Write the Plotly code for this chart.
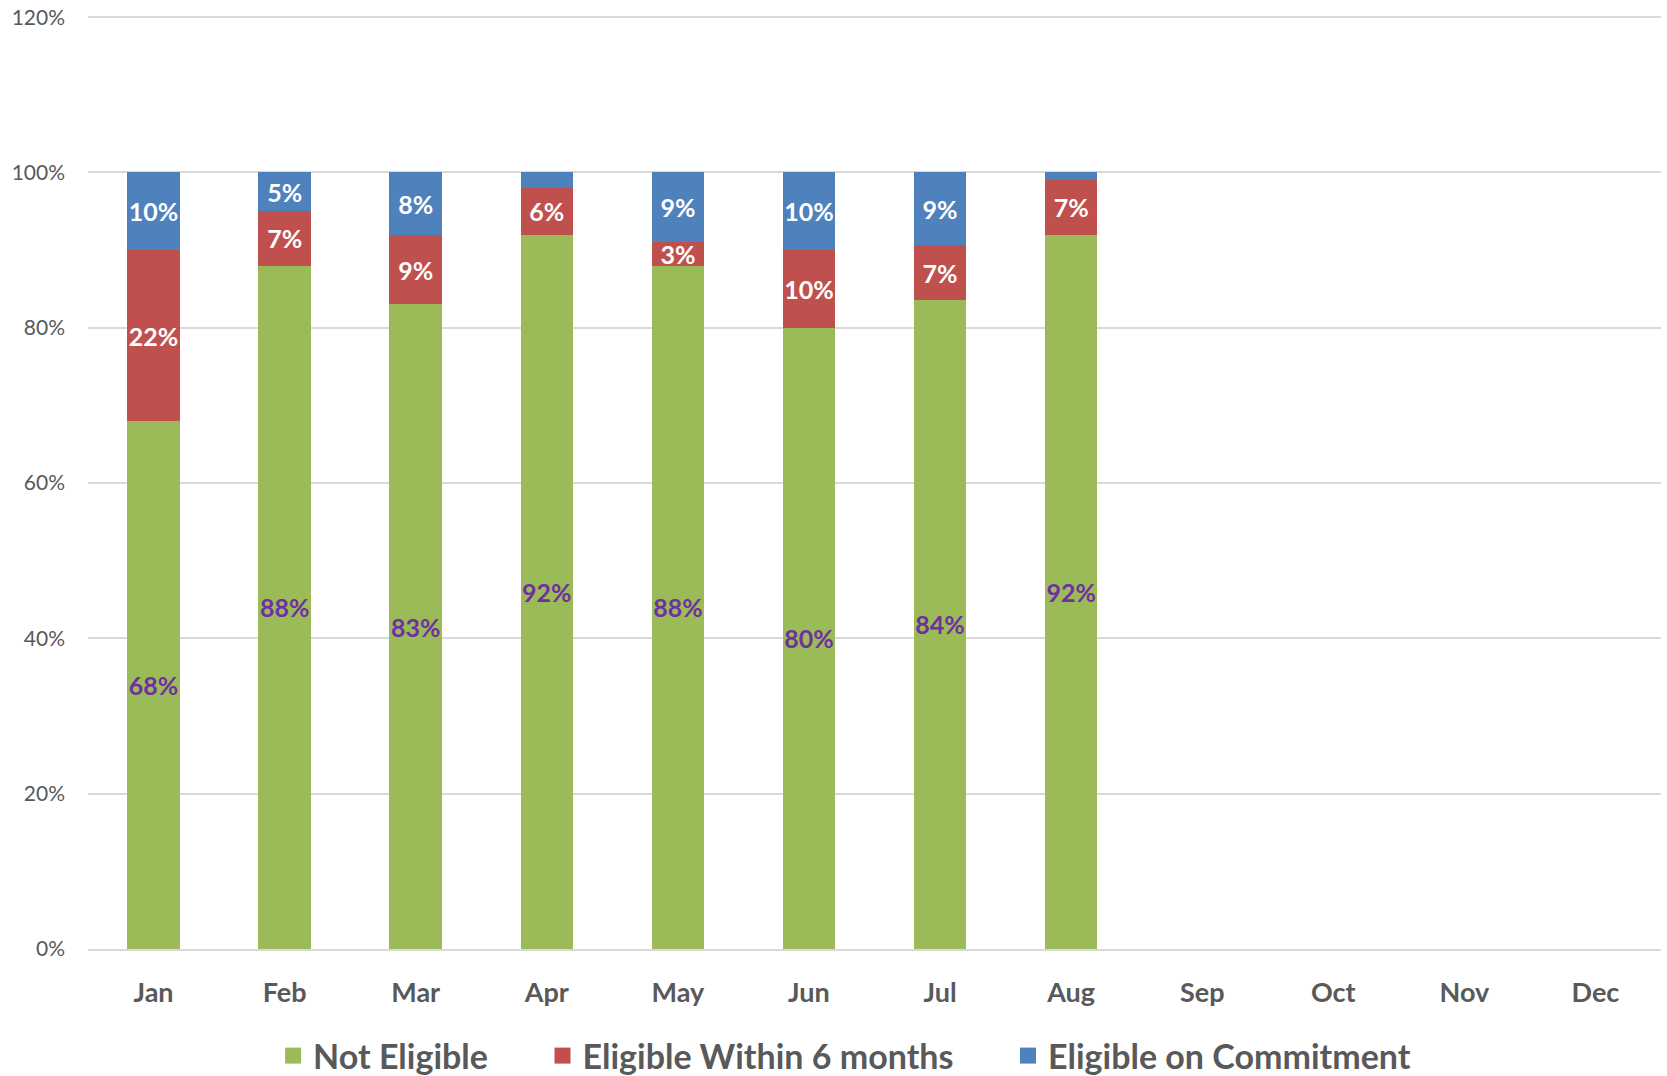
import plotly.graph_objects as go

months = ["Jan", "Feb", "Mar", "Apr", "May", "Jun", "Jul", "Aug", "Sep", "Oct", "Nov", "Dec"]
not_eligible = [0.68, 0.88, 0.83, 0.92, 0.88, 0.80, 0.836, 0.92]
within_6_months = [0.22, 0.07, 0.09, 0.06, 0.03, 0.10, 0.07, 0.07]
on_commitment = [0.10, 0.05, 0.08, 0.02, 0.09, 0.10, 0.094, 0.01]
y_ticks = [0, 0.2, 0.4, 0.6, 0.8, 1.0, 1.2]

FONT = "Lato, 'Open Sans', sans-serif"
W, H = 1667, 1076


def labels(vals):
    return [f"{round(v * 100)}%" if v >= 0.025 else "" for v in vals]


series = [
    ("Not Eligible", not_eligible, "#9BBB59", "#7030A0"),
    ("Eligible Within 6 months", within_6_months, "#C0504D", "#FFFFFF"),
    ("Eligible on Commitment", on_commitment, "#4F81BD", "#FFFFFF"),
]

fig = go.Figure()
for name, vals, color, tcolor in series:
    fig.add_trace(go.Bar(
        x=months[:len(vals)], y=vals, name=name, showlegend=False,
        marker=dict(color=color, line=dict(width=0)),
        text=labels(vals), textposition="inside", insidetextanchor="middle",
        textangle=0, constraintext="none", cliponaxis=False,
        textfont=dict(family=FONT, size=25, color=tcolor, weight="bold"),
        hoverinfo="skip",
    ))

# legend-only entries with larger square swatches
for i, (name, vals, color, tcolor) in enumerate(series):
    pad = "\u00a0" * 6 if i < len(series) - 1 else ""
    fig.add_trace(go.Scatter(
        x=[None], y=[None], mode="markers", name=name + pad,
        marker=dict(symbol="square", size=20, color=color),
        hoverinfo="skip",
    ))

fig.update_layout(
    barmode="stack",
    bargap=0.6,
    width=W, height=H,
    margin=dict(l=88, r=6, t=16, b=127),
    plot_bgcolor="white", paper_bgcolor="white",
    uniformtext=dict(minsize=25, mode="show"),
    showlegend=True,
    hovermode=False,
    legend=dict(orientation="h", x=0.481, xanchor="center", xref="paper",
                y=(1076 - 1056) / H, yanchor="middle", yref="container",
                font=dict(family=FONT, size=34, color="#595959", weight="bold"),
                traceorder="normal", itemsizing="trace", itemwidth=30),
    xaxis=dict(categoryorder="array", categoryarray=months, range=[-0.5, 11.5],
               tickfont=dict(family=FONT, size=27, color="#595959", weight="bold"),
               showgrid=False, showline=True, linecolor="#D9D9D9", linewidth=2,
               ticks="", ticklabelstandoff=19, automargin=False),
    yaxis=dict(range=[0, 1.2015], tickvals=y_ticks, tickformat=".0%",
               tickfont=dict(family=FONT, size=21, color="#595959"),
               showgrid=True, gridcolor="#D9D9D9", gridwidth=1.5,
               zeroline=False, showline=False, ticks="", ticklabelstandoff=22,
               ticklabeloverflow="allow", automargin=False),
)

fig.write_html("out.html", config={"displayModeBar": False},
               post_script="document.body.style.margin='0';")
